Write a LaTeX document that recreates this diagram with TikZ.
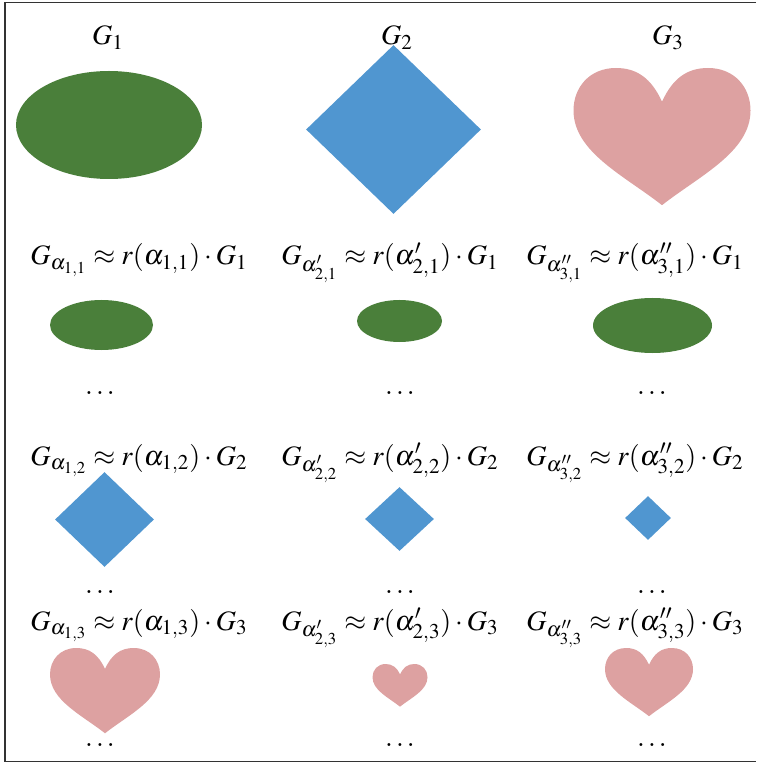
\documentclass[tikz,border=0pt]{standalone}
\usepackage{mathptmx}
\DeclareMathSizes{16}{16}{12}{9.5}
\usetikzlibrary{shapes.geometric}
\definecolor{ellgreen}{RGB}{74,127,58}
\definecolor{diablue}{RGB}{80,150,208}
\definecolor{heartpink}{RGB}{221,161,161}
\begin{document}
\begin{tikzpicture}[
    every node/.style={font=\fontsize{16}{19}\selectfont, inner sep=1pt},
    ell/.style={ellipse, fill=ellgreen, inner sep=0pt},
    dia/.style={diamond, fill=diablue, inner sep=0pt},
    lbl/.style={anchor=base},
    heart/.pic={
        \fill[heartpink] (0,-0.38) .. controls (-0.12,-0.12) and (-0.28,0) .. (-0.52,0)
            .. controls (-0.82,0) and (-1,-0.22) .. (-1,-0.48)
            .. controls (-1,-0.95) and (-0.42,-1.22) .. (0,-1.55)
            .. controls (0.42,-1.22) and (1,-0.95) .. (1,-0.48)
            .. controls (1,-0.22) and (0.82,0) .. (0.52,0)
            .. controls (0.28,0) and (0.12,-0.12) .. (0,-0.38) -- cycle;
    }]
    \useasboundingbox (0,0) rectangle (15.12,-15.28);
    \draw[black!80, line width=0.6pt] (15.12,-0.05) -| (0.1,-15.23) -- (15.12,-15.23);

    % ===== Top: the three base shapes =====
    \node[lbl] (g1) at (2.16,-0.9) {$G_1$};
    \node[lbl] (g2) at (7.94,-0.9) {$G_2$};
    \node[lbl] (g3) at (13.36,-0.9) {$G_3$};
    \node[ell, minimum width=3.72cm, minimum height=2.16cm] (e0) at (2.18,-2.50) {};
    \node[dia, minimum width=3.50cm, minimum height=3.38cm] (d0) at (7.87,-2.59) {};
    \pic[scale=1.77] (h0) at (13.24,-1.36) {heart};

    % ===== Row 1 =====
    \def\yA{-5.30}
    \node[lbl] (l11) at (2.78,\yA) {$G_{\alpha_{1,1}} \approx r(\alpha_{1,1}) \cdot G_1$};
    \node[lbl] (l21) at (7.80,\yA) {$G_{\alpha'_{2,1}} \approx r(\alpha'_{2,1}) \cdot G_1$};
    \node[lbl] (l31) at (12.70,\yA) {$G_{\alpha''_{3,1}} \approx r(\alpha''_{3,1}) \cdot G_1$};
    \node[ell, minimum width=2.06cm, minimum height=1.00cm] (e1) at (2.03,-6.50) {};
    \node[ell, minimum width=1.70cm, minimum height=0.84cm] (e2) at (7.99,-6.42) {};
    \node[ell, minimum width=2.38cm, minimum height=1.10cm] (e3) at (13.05,-6.51) {};
    \node (p11) at (2.00,-7.86) {$\ldots$};
    \node (p21) at (8.00,-7.86) {$\ldots$};
    \node (p31) at (13.04,-7.86) {$\ldots$};

    % ===== Row 2 =====
    \def\yB{-9.30}
    \node[lbl] (l12) at (2.78,\yB) {$G_{\alpha_{1,2}} \approx r(\alpha_{1,2}) \cdot G_2$};
    \node[lbl] (l22) at (7.80,\yB) {$G_{\alpha'_{2,2}} \approx r(\alpha'_{2,2}) \cdot G_2$};
    \node[lbl] (l32) at (12.70,\yB) {$G_{\alpha''_{3,2}} \approx r(\alpha''_{3,2}) \cdot G_2$};
    \node[dia, minimum width=1.98cm, minimum height=1.90cm] (d1) at (2.09,-10.39) {};
    \node[dia, minimum width=1.38cm, minimum height=1.28cm] (d2) at (7.99,-10.38) {};
    \node[dia, minimum width=0.92cm, minimum height=0.88cm] (d3) at (12.96,-10.36) {};
    \node (p12) at (2.00,-11.84) {$\ldots$};
    \node (p22) at (8.00,-11.84) {$\ldots$};
    \node (p32) at (13.04,-11.84) {$\ldots$};

    % ===== Row 3 =====
    \def\yC{-12.60}
    \node[lbl] (l13) at (2.78,\yC) {$G_{\alpha_{1,3}} \approx r(\alpha_{1,3}) \cdot G_3$};
    \node[lbl] (l23) at (7.80,\yC) {$G_{\alpha'_{2,3}} \approx r(\alpha'_{2,3}) \cdot G_3$};
    \node[lbl] (l33) at (12.70,\yC) {$G_{\alpha''_{3,3}} \approx r(\alpha''_{3,3}) \cdot G_3$};
    \pic[scale=1.10] (h1) at (2.10,-12.96) {heart};
    \pic[scale=0.55] (h2) at (8.00,-13.28) {heart};
    \pic[scale=0.88] (h3) at (12.98,-12.96) {heart};
    \node (p13) at (2.00,-14.90) {$\ldots$};
    \node (p23) at (8.00,-14.90) {$\ldots$};
    \node (p33) at (13.04,-14.90) {$\ldots$};
\end{tikzpicture}
\end{document}
